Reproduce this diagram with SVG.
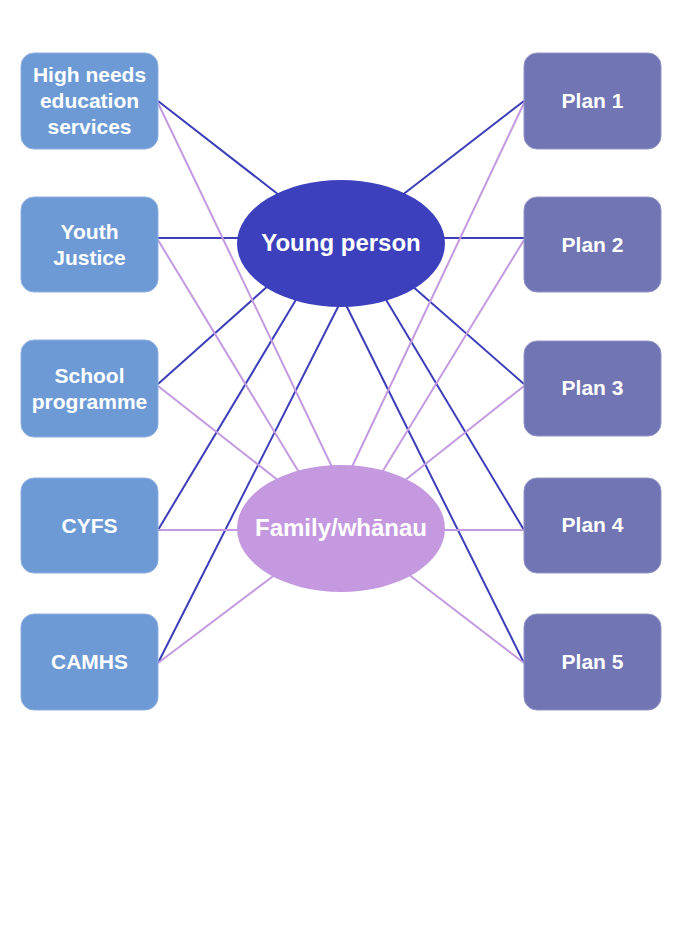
<svg xmlns="http://www.w3.org/2000/svg" width="697" height="928" viewBox="0 0 697 928">
<style>
.dark{stroke:#3B3EB8;stroke-width:2;fill:none}
.light{stroke:#C39AE0;stroke-width:2;fill:none}
.lbox{fill:#6D9AD5;stroke:#8DB0E0;stroke-width:1}
.rbox{fill:#7175B4;stroke:#9194C6;stroke-width:1}
.t{font-family:"Liberation Sans",Arial,sans-serif;font-weight:bold;fill:#FFFFFF;text-anchor:middle}
.s21{font-size:21px}
.s24{font-size:24px}
</style>
<rect width="697" height="928" fill="#FFFFFF"/>
<g id="connectors">
<line class="dark" x1="158" y1="101" x2="279" y2="195"/>
<line class="dark" x1="158" y1="238" x2="241" y2="238"/>
<line class="dark" x1="158" y1="384" x2="269" y2="285"/>
<line class="dark" x1="158" y1="530" x2="297" y2="298"/>
<line class="dark" x1="158" y1="663" x2="340" y2="303"/>
<line class="dark" x1="524" y1="101" x2="401" y2="196"/>
<line class="dark" x1="524" y1="238" x2="441" y2="238"/>
<line class="dark" x1="524" y1="384" x2="411" y2="285"/>
<line class="dark" x1="524" y1="530" x2="385" y2="298"/>
<line class="dark" x1="524" y1="663" x2="345" y2="303"/>
<line class="light" x1="158" y1="103" x2="333" y2="469"/>
<line class="light" x1="158" y1="240" x2="300" y2="474"/>
<line class="light" x1="158" y1="386" x2="279" y2="481"/>
<line class="light" x1="158" y1="530" x2="241" y2="530"/>
<line class="light" x1="158" y1="663" x2="276" y2="574"/>
<line class="light" x1="524" y1="103" x2="351" y2="469"/>
<line class="light" x1="524" y1="240" x2="381" y2="474"/>
<line class="light" x1="524" y1="386" x2="404" y2="481"/>
<line class="light" x1="524" y1="530" x2="441" y2="530"/>
<line class="light" x1="524" y1="663" x2="408" y2="574"/>
</g>
<g id="high-needs">
<rect class="lbox" x="21" y="53" width="137" height="96" rx="13"/>
<text class="t s21" x="89.5" y="82">High needs</text>
<text class="t s21" x="89.5" y="108">education</text>
<text class="t s21" x="89.5" y="134">services</text>
</g>
<g id="youth-justice">
<rect class="lbox" x="21" y="197" width="137" height="95" rx="13"/>
<text class="t s21" x="89.5" y="239">Youth</text>
<text class="t s21" x="89.5" y="265">Justice</text>
</g>
<g id="school-programme">
<rect class="lbox" x="21" y="340" width="137" height="97" rx="13"/>
<text class="t s21" x="89.5" y="383">School</text>
<text class="t s21" x="89.5" y="409">programme</text>
</g>
<g id="cyfs">
<rect class="lbox" x="21" y="478" width="137" height="95" rx="13"/>
<text class="t s21" x="89.5" y="533">CYFS</text>
</g>
<g id="camhs">
<rect class="lbox" x="21" y="614" width="137" height="96" rx="13"/>
<text class="t s21" x="89.5" y="669">CAMHS</text>
</g>
<g id="plan1">
<rect class="rbox" x="524" y="53" width="137" height="96" rx="13"/>
<text class="t s21" x="592.5" y="108">Plan 1</text>
</g>
<g id="plan2">
<rect class="rbox" x="524" y="197" width="137" height="95" rx="13"/>
<text class="t s21" x="592.5" y="252">Plan 2</text>
</g>
<g id="plan3">
<rect class="rbox" x="524" y="341" width="137" height="95" rx="13"/>
<text class="t s21" x="592.5" y="395">Plan 3</text>
</g>
<g id="plan4">
<rect class="rbox" x="524" y="478" width="137" height="95" rx="13"/>
<text class="t s21" x="592.5" y="532">Plan 4</text>
</g>
<g id="plan5">
<rect class="rbox" x="524" y="614" width="137" height="96" rx="13"/>
<text class="t s21" x="592.5" y="669">Plan 5</text>
</g>
<g id="young-person">
<ellipse cx="341" cy="243.5" rx="104" ry="63.5" fill="#3C40BC"/>
<text class="t s24" x="341" y="251">Young person</text>
</g>
<g id="family">
<ellipse cx="341" cy="528.5" rx="104" ry="63.5" fill="#C499E0"/>
<text class="t s24" x="341" y="536">Family/whānau</text>
</g>
</svg>
